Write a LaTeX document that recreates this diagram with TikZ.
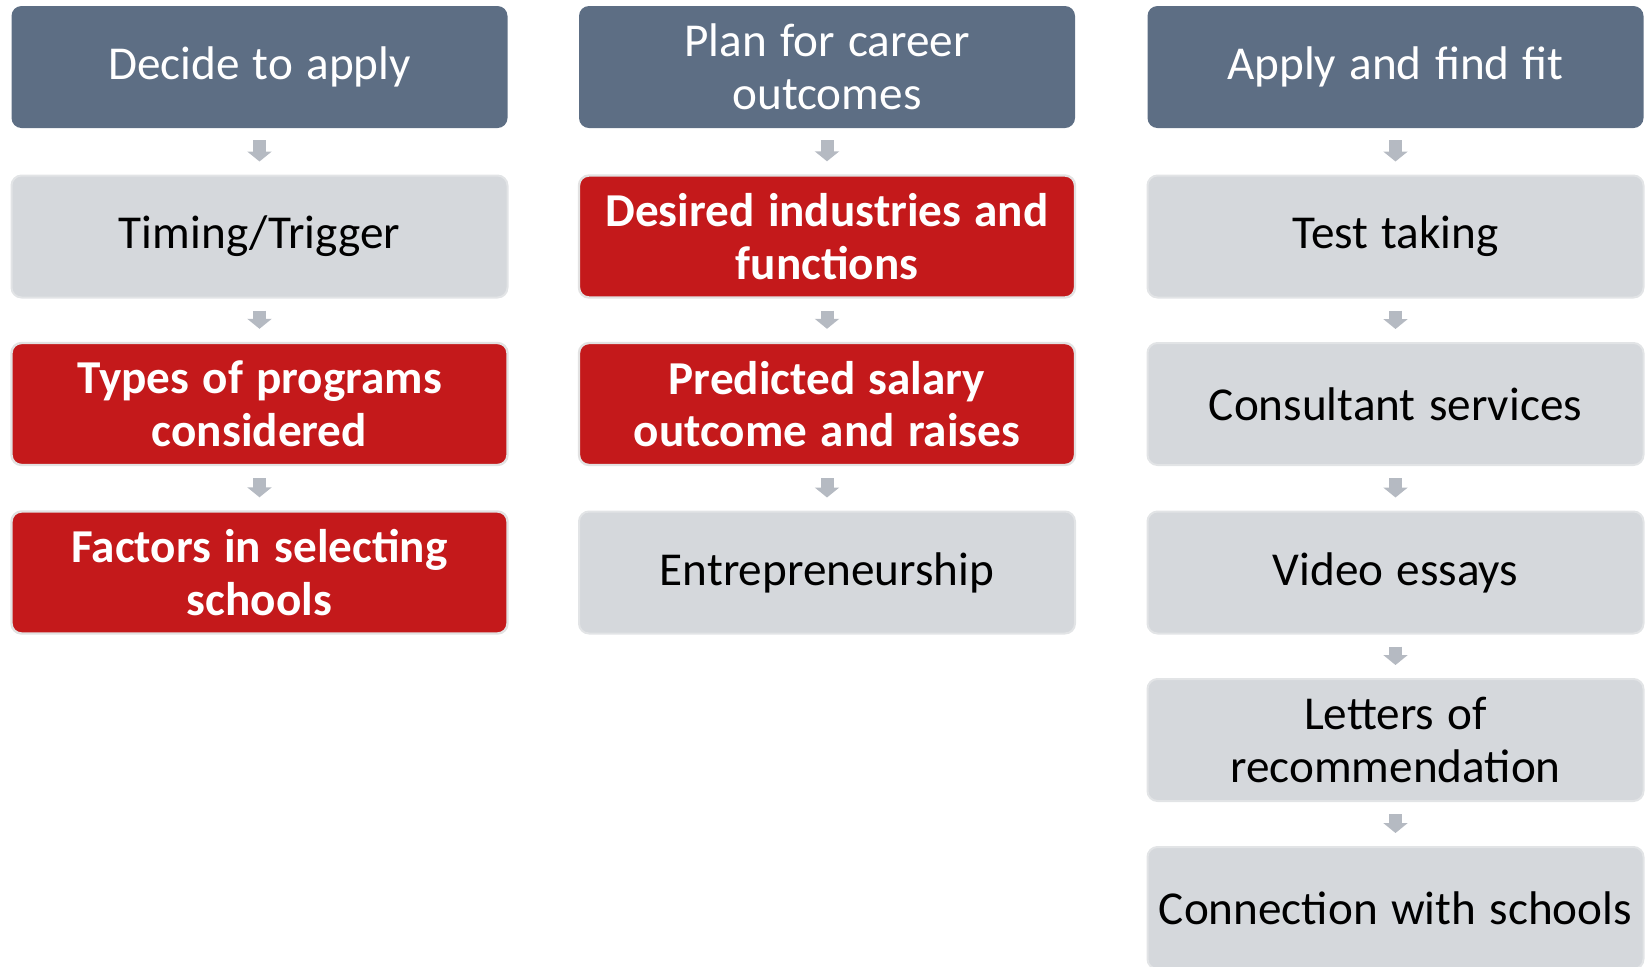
\documentclass[tikz,border=0pt]{standalone}
\usepackage{fontspec}
\setmainfont{Carlito}[WordSpace={1.25,0.5,0.3}]
\usetikzlibrary{arrows.meta}
\definecolor{hdr}{HTML}{5D6E84}
\definecolor{lite}{HTML}{D5D8DC}
\definecolor{redb}{HTML}{C4191B}
\definecolor{arr}{HTML}{B5BAC2}
\definecolor{rim}{HTML}{E2E2E2}
\begin{document}
\begin{tikzpicture}[x=0.5pt,y=-0.5pt,
  box/.style={rounded corners=5pt, minimum width=248pt, minimum height=61pt, align=center, inner sep=0pt, font=\fontsize{23.6}{26.3}\selectfont},
  hdrbox/.style={box, fill=hdr, text=white},
  litebox/.style={box, fill=lite, draw=lite!70!white, line width=1pt, text=black},
  redbox/.style={box, fill=redb, draw=rim, line width=1.2pt, text=white, font=\fontsize{23.6}{26.3}\selectfont\bfseries},
  flow/.style={draw=arr, line width=6.5pt, -{Triangle[width=12pt,length=5pt]}, shorten <=6pt, shorten >=6.5pt}]
\useasboundingbox (0,0) rectangle (1646,966);
\clip (0,0) rectangle (1646,966);
% column 1
\node[hdrbox]  (a0) at (259.5,67)    {Decide to apply};
\node[litebox] (a1) at (259.5,236.5) {Timing/Trigger};
\node[redbox]  (a2) at (259.5,404)   {Types of programs\\considered};
\node[redbox]  (a3) at (259.5,572.5) {Factors in selecting\\schools};
% column 2
\node[hdrbox]  (b0) at (827,67)    {Plan for career\\outcomes};
\node[redbox]  (b1) at (827,236.5) {Desired industries and\\functions};
\node[redbox]  (b2) at (827,404)   {Predicted salary\\outcome and raises};
\node[litebox] (b3) at (827,572.5) {Entrepreneurship};
% column 3
\node[hdrbox]  (c0) at (1395.5,67)    {Apply and find fit};
\node[litebox] (c1) at (1395.5,236.5) {Test taking};
\node[litebox] (c2) at (1395.5,404)   {Consultant services};
\node[litebox] (c3) at (1395.5,572.5) {Video essays};
\node[litebox] (c4) at (1395.5,740)   {Letters of\\recommendation};
\node[litebox] (c5) at (1395.5,908)   {Connection with schools};
% arrows
\draw[flow] (a0) -- (a1);
\draw[flow] (a1) -- (a2);
\draw[flow] (a2) -- (a3);
\draw[flow] (b0) -- (b1);
\draw[flow] (b1) -- (b2);
\draw[flow] (b2) -- (b3);
\draw[flow] (c0) -- (c1);
\draw[flow] (c1) -- (c2);
\draw[flow] (c2) -- (c3);
\draw[flow] (c3) -- (c4);
\draw[flow] (c4) -- (c5);
\end{tikzpicture}
\end{document}
